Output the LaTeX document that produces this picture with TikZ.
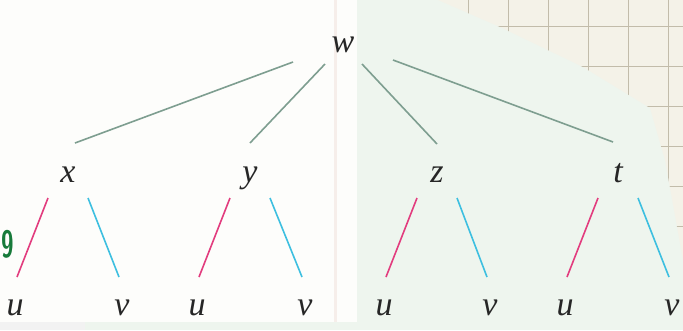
\documentclass[tikz,border=0pt]{standalone}
\usepackage{fontspec}
\setmainfont{Liberation Serif}
\usetikzlibrary{calc}
\definecolor{mint}{HTML}{EEF5EE}
\definecolor{paper}{HTML}{FDFDFB}
\definecolor{gridbg}{HTML}{F4F2E8}
\definecolor{gridln}{HTML}{C2BCAA}
\definecolor{seam}{HTML}{F6EEEA}
\definecolor{edgegr}{HTML}{7E9E90}
\definecolor{pinkedge}{HTML}{E23C7E}
\definecolor{blueedge}{HTML}{3DBFE0}
\definecolor{notegreen}{HTML}{177A3A}
\tikzset{
  lab/.style={anchor=base, inner sep=0pt, font=\fontsize{34}{36}\selectfont\itshape, text=black!85},
  topedge/.style={draw=edgegr, line width=1.6pt},
  leftedge/.style={draw=pinkedge, line width=1.6pt},
  rightedge/.style={draw=blueedge, line width=1.6pt},
}
\begin{document}
\begin{tikzpicture}[x=1pt, y=-1pt]
% background
\fill[mint] (0,0) rectangle (683,330);
\fill[paper] (0,0) rectangle (357,322);
\fill[seam] (334,0) rectangle (337,322);
\fill[black!5] (0,322) rectangle (85,330);
% grid region
\begin{scope}
  \clip (438,0) -- (500,27) -- (583,67) -- (650,108) -- (665,160) -- (683,260) -- (683,0) -- cycle;
  \fill[gridbg] (400,0) rectangle (683,330);
  \foreach \gx in {468,508,548,588,628,668} \draw[gridln, line width=0.9pt] (\gx,0) -- (\gx,330);
  \foreach \gy in {26,66,106,146,186,226} \draw[gridln, line width=0.9pt] (400,\gy) -- (683,\gy);
\end{scope}
% labels
\node[lab] (w) at (343,52) {w};
\node[lab] (x) at (68,182) {x};
\node[lab] (y) at (250,182) {y};
\node[lab] (z) at (437,182) {z};
\node[lab] (t) at (618,182) {t};
\node[lab] (u1) at (15,315) {u};
\node[lab] (v1) at (122,315) {v};
\node[lab] (u2) at (197,315) {u};
\node[lab] (v2) at (305,315) {v};
\node[lab] (u3) at (384,315) {u};
\node[lab] (v3) at (490,315) {v};
\node[lab] (u4) at (565,315) {u};
\node[lab] (v4) at (672,315) {v};
\node[anchor=base, inner sep=0pt, text=notegreen, font=\fontsize{38}{40}\selectfont\sffamily\bfseries, xscale=0.6] (nine) at (8,257) {9};
% top edges
\draw[topedge] ($(w.base)+(-50,10)$) -- ($(x.base)+(7,-39)$);
\draw[topedge] ($(w.base)+(-18,12)$) -- ($(y.base)+(0,-39)$);
\draw[topedge] ($(w.base)+(19,12)$) -- ($(z.base)+(0,-38)$);
\draw[topedge] ($(w.base)+(50,8)$) -- ($(t.base)+(-5,-40)$);
% child edges
\foreach \p/\a/\b in {x/u1/v1, y/u2/v2, z/u3/v3, t/u4/v4}{
  \draw[leftedge] ($(\p.base)+(-20,16)$) -- ($(\a.base)+(2,-38)$);
  \draw[rightedge] ($(\p.base)+(20,16)$) -- ($(\b.base)+(-3,-38)$);
}
\end{tikzpicture}
\end{document}
